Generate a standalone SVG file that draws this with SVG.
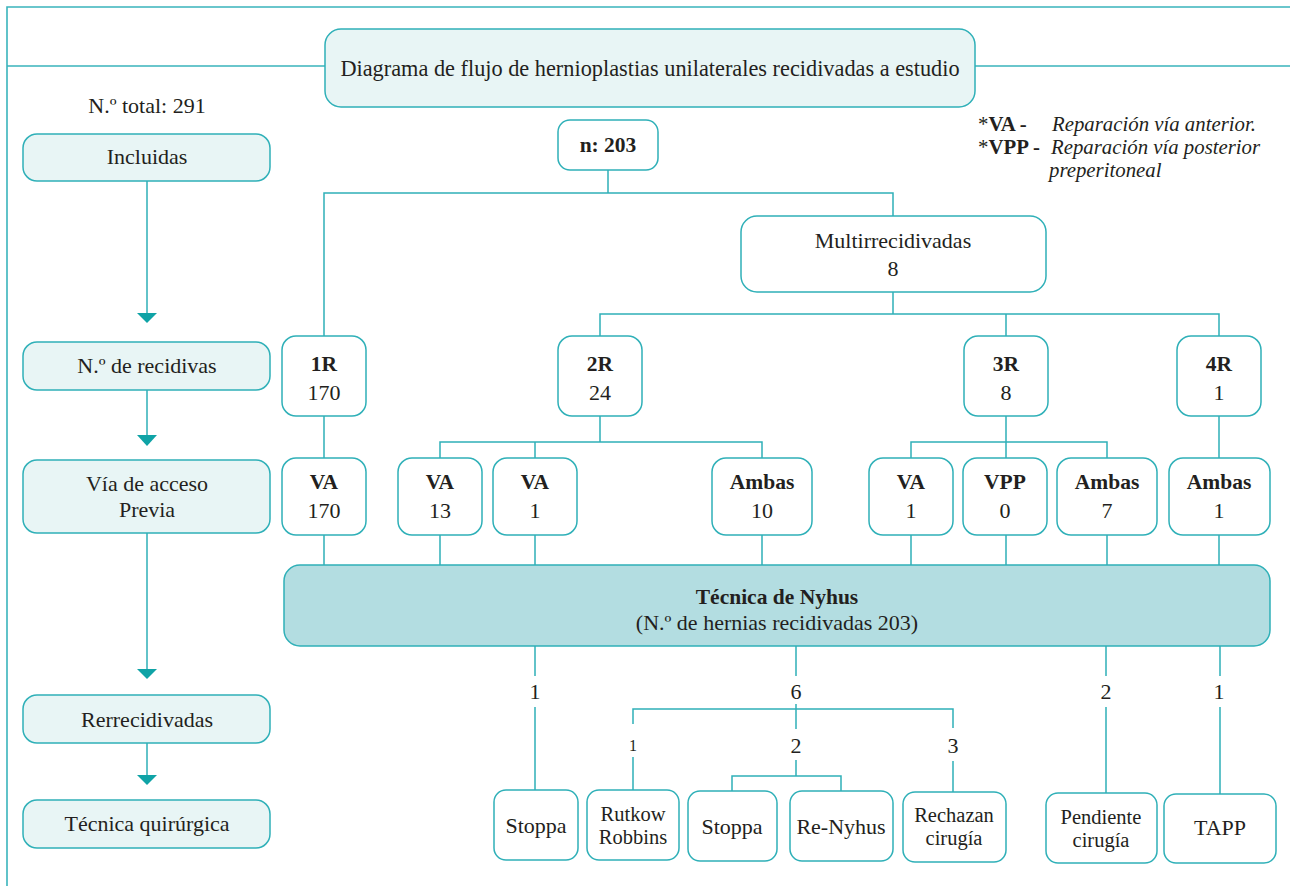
<svg xmlns="http://www.w3.org/2000/svg" width="1290" height="886" viewBox="0 0 1290 886" font-family="'Liberation Serif', 'DejaVu Serif', serif">
<style>
.frame{fill:none;stroke:#3ab4bc;stroke-width:1.6}
.ln{fill:none;stroke:#2fb0b8;stroke-width:1.5}
.ah{fill:#0fa3a6}
.lbox{fill:#e8f5f5;stroke:#2fb0b8;stroke-width:1.5}
.box{fill:#ffffff;stroke:#2fb0b8;stroke-width:1.5}
.nyhus{fill:#b3dde1;stroke:#2fb0b8;stroke-width:1.5}
text{font-family:'Liberation Serif','DejaVu Serif',serif;font-size:22px;fill:#231f20;text-anchor:middle}
.b{font-weight:bold;font-size:21.5px}
.leg{text-anchor:start;font-size:20.8px}
.leg .b{font-size:20.8px}
.it{font-style:italic}
.sm{font-size:16px}
.ttl{font-size:22.3px}
.t2{font-size:20.5px}
</style>
<g id="frame">
<path class="frame" d="M7,886 V7 H1290"/>
<path class="frame" d="M7,66 H325 M975,66 H1290"/>
</g>
<g id="connectors">
<path class="ln" d="M147,181 V313 M147,390 V435 M147,533 V669 M147,743 V775"/>
<polygon class="ah" points="137,313 157,313 147,323"/>
<polygon class="ah" points="137,435 157,435 147,446"/>
<polygon class="ah" points="137,669 157,669 147,679"/>
<polygon class="ah" points="137,775 157,775 147,785"/>
<path class="ln" d="M608,170 V193 M324,336 V193 H893 V216"/>
<path class="ln" d="M893,292 V314 M600,336 V314 H1219 V336 M1006,314 V336"/>
<path class="ln" d="M324,416 V458 M600,416 V442 M440,458 V442 H762 V458 M535,442 V458"/>
<path class="ln" d="M1006,416 V442 M911,458 V442 H1107 V458 M1006,442 V458 M1219,416 V458"/>
<path class="ln" d="M324,535 V565 M440,535 V565 M535,535 V565 M762,535 V565 M911,535 V565 M1006,535 V565 M1107,535 V565 M1219,535 V565"/>
<path class="ln" d="M535,646 V676 M535,707 V790"/>
<path class="ln" d="M796,646 V676 M796,704 V729 M633,724 V709 H953 V728 M633,757 V790 M953,761 V792"/>
<path class="ln" d="M796,760 V776 M732,791 V776 H841 V791"/>
<path class="ln" d="M1106,646 V676 M1106,707 V793"/>
<path class="ln" d="M1220,646 V676 M1220,707 V794"/>
<text x="535" y="699">1</text>
<text x="796" y="699">6</text>
<text x="1106" y="699">2</text>
<text x="1219" y="699">1</text>
<text class="sm" x="633" y="751">1</text>
<text x="796" y="753">2</text>
<text x="953" y="753">3</text>
</g>
<g id="title">
<rect class="lbox" x="325" y="29" width="650" height="78" rx="16"/>
<text class="ttl" x="650" y="76">Diagrama de flujo de hernioplastias unilaterales recidivadas a estudio</text>
</g>
<g id="total"><text x="147" y="113">N.º total: 291</text></g>
<g id="legend">
<text class="leg"><tspan x="978" y="131">*</tspan><tspan class="b">VA -</tspan><tspan class="it" x="1052">Reparación vía anterior.</tspan><tspan x="978" y="154">*</tspan><tspan class="b">VPP -</tspan><tspan class="it" x="1051">Reparación vía posterior</tspan><tspan class="it" x="1049" y="177">preperitoneal</tspan></text>
</g>
<g id="incluidas"><rect class="lbox" x="23" y="134" width="247" height="47" rx="14"/><text x="147" y="164">Incluidas</text></g>
<g id="recidivas"><rect class="lbox" x="23" y="342" width="247" height="48" rx="14"/><text x="147" y="373">N.º de recidivas</text></g>
<g id="via"><rect class="lbox" x="23" y="460" width="247" height="73" rx="14"/><text><tspan x="147" y="491">Vía de acceso</tspan><tspan x="147" y="517">Previa</tspan></text></g>
<g id="rerrecidivadas"><rect class="lbox" x="23" y="695" width="247" height="48" rx="14"/><text x="147" y="727">Rerrecidivadas</text></g>
<g id="tecnica"><rect class="lbox" x="23" y="800" width="247" height="48" rx="14"/><text x="147" y="831">Técnica quirúrgica</text></g>
<g id="n203"><rect class="box" x="558" y="120" width="100" height="50" rx="12"/><text class="b" x="608" y="152">n: 203</text></g>
<g id="multi"><rect class="box" x="741" y="216" width="305" height="76" rx="16"/><text><tspan x="893" y="248">Multirrecidivadas</tspan><tspan x="893" y="276">8</tspan></text></g>
<g id="r1"><rect class="box" x="282" y="336" width="84" height="80" rx="14"/><text><tspan class="b" x="324" y="371">1R</tspan><tspan x="324" y="400">170</tspan></text></g>
<g id="r2"><rect class="box" x="558" y="336" width="84" height="80" rx="14"/><text><tspan class="b" x="600" y="371">2R</tspan><tspan x="600" y="400">24</tspan></text></g>
<g id="r3"><rect class="box" x="964" y="336" width="84" height="80" rx="14"/><text><tspan class="b" x="1006" y="371">3R</tspan><tspan x="1006" y="400">8</tspan></text></g>
<g id="r4"><rect class="box" x="1177" y="336" width="84" height="80" rx="14"/><text><tspan class="b" x="1219" y="371">4R</tspan><tspan x="1219" y="400">1</tspan></text></g>
<g id="va170"><rect class="box" x="282" y="458" width="84" height="77" rx="14"/><text><tspan class="b" x="324" y="489">VA</tspan><tspan x="324" y="518">170</tspan></text></g>
<g id="va13"><rect class="box" x="398" y="458" width="84" height="77" rx="14"/><text><tspan class="b" x="440" y="489">VA</tspan><tspan x="440" y="518">13</tspan></text></g>
<g id="va1a"><rect class="box" x="493" y="458" width="84" height="77" rx="14"/><text><tspan class="b" x="535" y="489">VA</tspan><tspan x="535" y="518">1</tspan></text></g>
<g id="ambas10"><rect class="box" x="712" y="458" width="100" height="77" rx="14"/><text><tspan class="b" x="762" y="489">Ambas</tspan><tspan x="762" y="518">10</tspan></text></g>
<g id="va1b"><rect class="box" x="869" y="458" width="84" height="77" rx="14"/><text><tspan class="b" x="911" y="489">VA</tspan><tspan x="911" y="518">1</tspan></text></g>
<g id="vpp0"><rect class="box" x="963" y="458" width="84" height="77" rx="14"/><text><tspan class="b" x="1005" y="489">VPP</tspan><tspan x="1005" y="518">0</tspan></text></g>
<g id="ambas7"><rect class="box" x="1057" y="458" width="100" height="77" rx="14"/><text><tspan class="b" x="1107" y="489">Ambas</tspan><tspan x="1107" y="518">7</tspan></text></g>
<g id="ambas1"><rect class="box" x="1169" y="458" width="101" height="77" rx="14"/><text><tspan class="b" x="1219" y="489">Ambas</tspan><tspan x="1219" y="518">1</tspan></text></g>
<g id="nyhus"><rect class="nyhus" x="284" y="565" width="986" height="81" rx="16"/><text><tspan class="b" x="777" y="604">Técnica de Nyhus</tspan><tspan x="777" y="630">(N.º de hernias recidivadas 203)</tspan></text></g>
<g id="stoppa1"><rect class="box" x="494" y="790" width="84" height="70" rx="12"/><text x="536" y="833">Stoppa</text></g>
<g id="rutkow"><rect class="box" x="587" y="790" width="92" height="70" rx="12"/><text class="t2"><tspan x="633" y="821">Rutkow</tspan><tspan x="633" y="844">Robbins</tspan></text></g>
<g id="stoppa2"><rect class="box" x="688" y="791" width="89" height="70" rx="12"/><text x="732" y="834">Stoppa</text></g>
<g id="renyhus"><rect class="box" x="790" y="791" width="103" height="70" rx="12"/><text x="841" y="834">Re-Nyhus</text></g>
<g id="rechazan"><rect class="box" x="903" y="792" width="103" height="70" rx="12"/><text class="t2"><tspan x="954" y="822">Rechazan</tspan><tspan x="954" y="845">cirugía</tspan></text></g>
<g id="pendiente"><rect class="box" x="1046" y="793" width="111" height="70" rx="12"/><text class="t2"><tspan x="1101" y="824">Pendiente</tspan><tspan x="1101" y="847">cirugía</tspan></text></g>
<g id="tapp"><rect class="box" x="1164" y="794" width="112" height="69" rx="12"/><text x="1220" y="835">TAPP</text></g>
</svg>
